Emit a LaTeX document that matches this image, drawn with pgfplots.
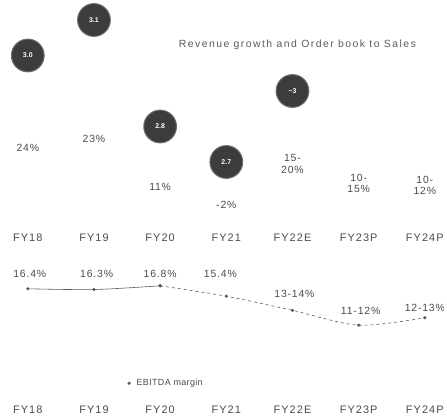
\documentclass[border=0pt]{standalone}
\usepackage{fontspec}
\setmainfont{Liberation Sans}
\usepackage{pgfplots}
\pgfplotsset{compat=1.18}
\definecolor{txt}{HTML}{4A4A4A}
\definecolor{ttl}{HTML}{5A5A5A}
\definecolor{ball}{HTML}{3C3C3C}
\definecolor{lne}{HTML}{5A5A5A}
\newcommand{\lab}{\fontsize{10.5}{11.5}\selectfont\addfontfeatures{LetterSpace=8}}
\newcommand{\leg}{\fontsize{9}{10}\selectfont\addfontfeatures{LetterSpace=4}}
\newcommand{\ttlfont}{\fontsize{10.5}{11.5}\selectfont\addfontfeatures{LetterSpace=14}}
\newcommand{\tck}{\fontsize{11}{12}\selectfont\addfontfeatures{LetterSpace=10}}
\begin{document}
\begin{tikzpicture}
\path (0,0) rectangle (447pt,421pt);

% Revenue growth and order book to sales
\begin{axis}[
  at={(0pt,191pt)}, anchor=south west,
  scale only axis, width=447pt, height=230pt,
  xmin=-0.42, xmax=6.285, ymin=2.513, ymax=3.156,
  axis line style={draw=none}, ytick=\empty,
  xtick={0,...,6},
  xticklabels={FY18,FY19,FY20,FY21,FY22E,FY23P,FY24P},
  major tick length=0pt,
  xticklabel style={font=\tck, text=txt, yshift=-2pt},
]
% order book to sales: dark discs
\addplot[only marks, mark=*, mark size=16.5pt,
  mark options={fill=ball, draw=ball!75!white, line width=1pt},
  point meta=explicit symbolic,
  nodes near coords,
  every node near coord/.append style={anchor=center, text=white,
    font=\fontsize{7}{7}\selectfont\bfseries}]
  coordinates {(0,3.0)[3.0] (1,3.1)[3.1] (2,2.8)[2.8] (3,2.7)[2.7]
               (4,2.9)[{\textasciitilde3}]};
% revenue growth
\node[font=\lab, text=txt] at (axis cs:0,2.739) {24\%};
\node[font=\lab, text=txt] at (axis cs:1,2.766) {23\%};
\node[font=\lab, text=txt] at (axis cs:2,2.629) {11\%};
\node[font=\lab, text=txt] at (axis cs:3,2.578) {-2\%};
\node[font=\lab, text=txt, align=center] at (axis cs:4,2.695) {15-\\20\%};
\node[font=\lab, text=txt, align=center] at (axis cs:5,2.640) {10-\\15\%};
\node[font=\lab, text=txt, align=center] at (axis cs:6,2.634) {10-\\12\%};
\node[font=\ttlfont, text=ttl, anchor=west, inner sep=0pt] at (axis cs:2.28,3.030)
  {Revenue growth and Order book to Sales};
\end{axis}

% EBITDA margin
\begin{axis}[
  at={(0pt,18pt)}, anchor=south west,
  scale only axis, width=447pt, height=153pt,
  xmin=-0.42, xmax=6.285, ymin=1.41, ymax=21.86,
  axis line style={draw=none}, ytick=\empty,
  xtick={0,...,6},
  xticklabels={FY18,FY19,FY20,FY21,FY22E,FY23P,FY24P},
  major tick length=0pt,
  xticklabel style={font=\tck, text=txt, yshift=-2pt},
  legend style={at={(0.287,0.111)}, anchor=west, draw=none, fill=none,
    font=\leg, text=txt, inner sep=0pt, column sep=4pt},
  legend image code/.code={\fill[lne] (0.15cm,0cm) circle (1.3pt);},
]
\addplot[smooth, line width=0.6pt, color=lne, mark=*, mark size=1.3pt]
  coordinates {(0,16.4) (1,16.3) (2,16.8)};
\addlegendentry{EBITDA margin}
\addplot[smooth, line width=0.6pt, color=lne, dashed, mark=*, mark size=1.3pt,
  mark options={solid}, forget plot]
  coordinates {(2,16.8) (3,15.4) (4,13.5) (5,11.5) (6,12.5)};
\node[font=\lab, text=txt] at (axis cs:0.03,18.4) {16.4\%};
\node[font=\lab, text=txt] at (axis cs:1.04,18.4) {16.3\%};
\node[font=\lab, text=txt] at (axis cs:2.0,18.4) {16.8\%};
\node[font=\lab, text=txt] at (axis cs:2.91,18.4) {15.4\%};
\node[font=\lab, text=txt] at (axis cs:4.03,15.7) {13-14\%};
\node[font=\lab, text=txt] at (axis cs:5.03,13.45) {11-12\%};
\node[font=\lab, text=txt] at (axis cs:6.0,13.85) {12-13\%};
\end{axis}
\end{tikzpicture}
\end{document}
